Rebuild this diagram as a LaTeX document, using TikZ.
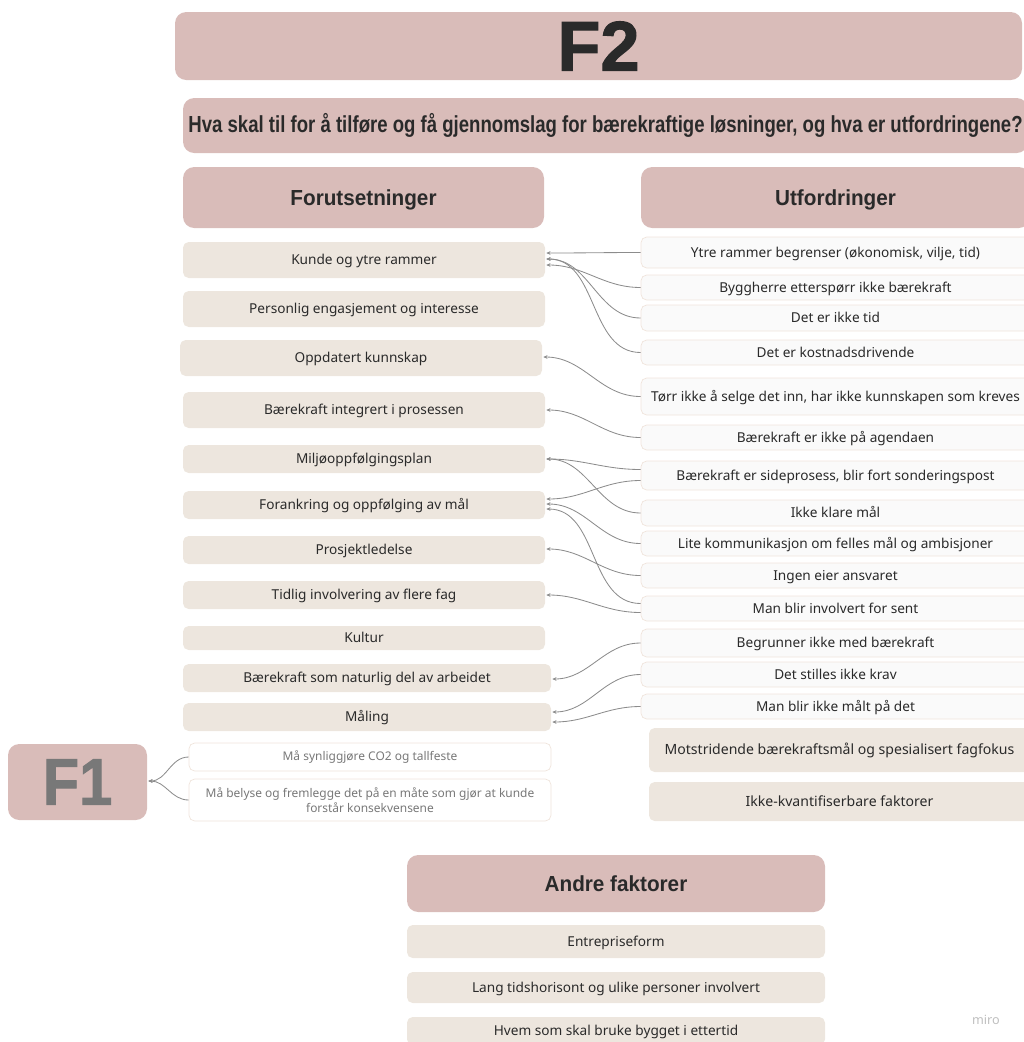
\documentclass[tikz,border=0pt]{standalone}
\usepackage{fontspec}
\usepackage{graphicx}
\setmainfont{Noto Sans}
\newfontfamily\headfont[FakeStretch=0.95]{Liberation Sans}
\newfontfamily\askfont[FakeStretch=0.8]{Liberation Sans}
\newfontfamily\bigfont[BoldFeatures={FakeBold=1.5}]{Liberation Sans}
\usetikzlibrary{calc,arrows.meta}
\definecolor{rosa}{HTML}{D9BCB9}
\definecolor{sand}{HTML}{EDE6DE}
\definecolor{kant}{HTML}{F0E4DC}
\definecolor{lys}{HTML}{FAFAFA}
\definecolor{strek}{HTML}{8C8C8C}
\definecolor{tekst}{HTML}{2A2A2A}
\definecolor{graa}{HTML}{787878}
% boks: stil, navn, x1, y1, x2, y2, tekst (i piksler)
\newcommand{\boks}[7]{\node[#1,minimum width={(#5-#3)*0.025cm},minimum height={(#6-#4)*0.025cm}] (#2) at ({(#3+#5)/2},{(#4+#6)/2}) {#7};}

\begin{document}
\begin{tikzpicture}[x=0.025cm,y=-0.025cm,
    every node/.style={inner sep=0pt,text=tekst},
    flate/.style={fill=rosa,rounded corners=8pt},
    hode/.style={flate,text height=11pt,text depth=0pt,font=\headfont\bfseries\fontsize{15.5}{18}\selectfont},
    lapp/.style={fill=sand,rounded corners=4pt,text height=7pt,text depth=0pt,font=\fontsize{9.7}{11}\selectfont},
    utbox/.style={fill=lys,draw=kant,line width=0.5pt,rounded corners=4pt,text height=7pt,text depth=0pt,font=\fontsize{9.7}{11}\selectfont},
    f1box/.style={fill=white,draw=kant,line width=0.5pt,rounded corners=4pt,text=graa,align=center,font=\fontsize{8.5}{11}\selectfont},
    lenke/.style={draw=strek,line width=0.6pt,-{Stealth[length=3pt,width=2.6pt]}}]
  \useasboundingbox (0,0) rectangle (1024,1042);
  \clip (0,0) rectangle (1024,1042);

  % titler
  \boks{flate}{F2}{175}{12}{1022}{80}{\bigfont\bfseries\fontsize{50}{50}\selectfont F2}
  \boks{flate}{Q}{183}{98}{1028}{153}{\resizebox{20.85cm}{!}{\askfont\bfseries\fontsize{15}{18}\selectfont Hva skal til for å tilføre og få gjennomslag for bærekraftige løsninger, og hva er utfordringene?}}
  \boks{hode}{Fo}{183}{167}{544}{228}{Forutsetninger}
  \boks{hode}{Ut}{641}{167}{1030}{228}{Utfordringer}

  % forutsetninger
  \boks{lapp}{k1}{183}{242}{545}{278}{Kunde og ytre rammer}
  \boks{lapp}{k2}{183}{291}{545}{327}{Personlig engasjement og interesse}
  \boks{lapp}{k3}{180}{340}{542}{376}{Oppdatert kunnskap}
  \boks{lapp}{k4}{183}{392}{545}{428}{Bærekraft integrert i prosessen}
  \boks{lapp}{k5}{183}{445}{545}{473}{Miljøoppfølgingsplan}
  \boks{lapp}{k6}{183}{491}{545}{519}{Forankring og oppfølging av mål}
  \boks{lapp}{k7}{183}{536}{545}{564}{Prosjektledelse}
  \boks{lapp}{k8}{183}{581}{545}{609}{Tidlig involvering av flere fag}
  \boks{lapp}{k9}{183}{626}{545}{650}{Kultur}
  \boks{lapp}{k10}{183}{664}{551}{692}{Bærekraft som naturlig del av arbeidet}
  \boks{lapp}{k11}{183}{703}{551}{731}{Måling}

  % utfordringer
  \boks{utbox}{u1}{641}{237}{1030}{268}{Ytre rammer begrenser (økonomisk, vilje, tid)}
  \boks{utbox}{u2}{641}{275}{1030}{300}{Byggherre etterspørr ikke bærekraft}
  \boks{utbox}{u3}{641}{305}{1030}{331}{Det er ikke tid}
  \boks{utbox}{u4}{641}{340}{1030}{365}{Det er kostnadsdrivende}
  \boks{utbox}{u5}{641}{378}{1030}{415}{Tørr ikke å selge det inn, har ikke kunnskapen som kreves}
  \boks{utbox}{u6}{641}{425}{1030}{450}{Bærekraft er ikke på agendaen}
  \boks{utbox}{u7}{641}{461}{1030}{490}{Bærekraft er sideprosess, blir fort sonderingspost}
  \boks{utbox}{u8}{641}{500}{1030}{526}{Ikke klare mål}
  \boks{utbox}{u9}{641}{531}{1030}{556}{Lite kommunikasjon om felles mål og ambisjoner}
  \boks{utbox}{u10}{641}{563}{1030}{588}{Ingen eier ansvaret}
  \boks{utbox}{u11}{641}{596}{1030}{621}{Man blir involvert for sent}
  \boks{utbox}{u12}{641}{629}{1030}{657}{Begrunner ikke med bærekraft}
  \boks{utbox}{u13}{641}{662}{1030}{687}{Det stilles ikke krav}
  \boks{utbox}{u14}{641}{694}{1030}{719}{Man blir ikke målt på det}
  \boks{lapp,font=\fontsize{10}{12}\selectfont}{u15}{649}{728}{1030}{772}{Motstridende bærekraftsmål og spesialisert fagfokus}
  \boks{lapp,font=\fontsize{10}{12}\selectfont}{u16}{649}{782}{1030}{821}{Ikke-kvantifiserbare faktorer}

  % F1
  \boks{flate}{F1}{8}{744}{147}{820}{\scalebox{0.9}[1]{\bigfont\bfseries\fontsize{47}{47}\selectfont\color{graa}F1}}
  \boks{f1box}{m1}{189}{743}{551}{771}{Må synliggjøre CO2 og tallfeste}
  \boks{f1box}{m2}{189}{779}{551}{821}{Må belyse og fremlegge det på en måte som gjør at kunde\\forstår konsekvensene}

  % andre faktorer
  \boks{hode}{A}{407}{855}{825}{912}{Andre faktorer}
  \boks{lapp}{a1}{407}{925}{825}{958}{Entrepriseform}
  \boks{lapp}{a2}{407}{972}{825}{1003}{Lang tidshorisont og ulike personer involvert}
  \boks{lapp}{a3}{407}{1017}{825}{1045}{Hvem som skal bruke bygget i ettertid}
  \node[text=black!25,font=\fontsize{9}{10}\selectfont] (miro) at (986,1020) {miro};

  % koblinger
  \draw[lenke] (u1.west) to[out=180,in=0] ($(k1.east)+(1,-7)$);
  \draw[lenke] (u2.west) to[out=180,in=0] ($(k1.east)+(1,5)$);
  \draw[lenke] (u3.west) to[out=180,in=0] ($(k1.east)+(1,-1)$);
  \draw[lenke] (u4.west) to[out=180,in=0] ($(k1.east)+(1,-1)$);
  \draw[lenke] (u5.west) to[out=180,in=0] ($(k3.east)+(1,-1)$);
  \draw[lenke] (u6.west) to[out=180,in=0] ($(k4.east)+(1,0)$);
  \draw[lenke] ($(u7.west)+(0,-6)$) to[out=180,in=0] ($(k5.east)+(1,0)$);
  \draw[lenke] (u8.west) to[out=180,in=0] ($(k5.east)+(1,0)$);
  \draw[lenke] ($(u7.west)+(0,5)$) to[out=180,in=0] ($(k6.east)+(1,-6)$);
  \draw[lenke] (u9.west) to[out=180,in=0] ($(k6.east)+(1,-1)$);
  \draw[lenke] ($(u11.west)+(0,-5)$) to[out=180,in=0] ($(k6.east)+(1,4)$);
  \draw[lenke] (u10.west) to[out=180,in=0] ($(k7.east)+(1,-1)$);
  \draw[lenke] ($(u11.west)+(0,4)$) to[out=180,in=0] ($(k8.east)+(1,0)$);
  \draw[lenke] (u12.west) to[out=180,in=0] ($(k10.east)+(1,1)$);
  \draw[lenke] (u13.west) to[out=180,in=0] ($(k11.east)+(1,-5)$);
  \draw[lenke] (u14.west) to[out=180,in=0] ($(k11.east)+(1,5)$);
  \draw[lenke] (m1.west) to[out=180,in=0] ($(F1.east)+(1,-1)$);
  \draw[lenke] (m2.west) to[out=180,in=0] ($(F1.east)+(1,-1)$);
\end{tikzpicture}
\end{document}
